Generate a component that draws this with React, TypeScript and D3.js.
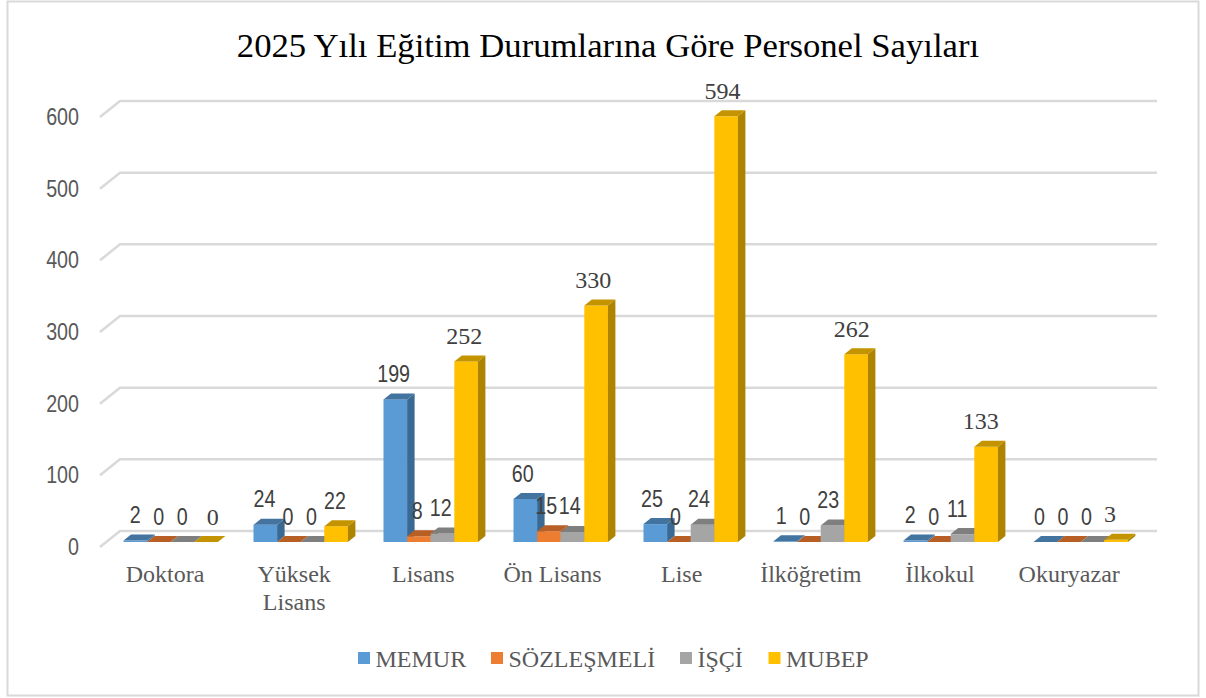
import React from "react";
import * as d3 from "d3";

const categories = ["Doktora", "Yüksek Lisans", "Lisans", "Ön Lisans", "Lise", "İlköğretim", "İlkokul", "Okuryazar"];
const memur = [2, 24, 199, 60, 25, 1, 2, 0];
const sozlesmeli = [0, 0, 8, 15, 0, 0, 0, 0];
const isci = [0, 0, 12, 14, 24, 23, 11, 0];
const mubep = [0, 22, 252, 330, 594, 262, 133, 3];
const seriesNames = ["MEMUR", "SÖZLEŞMELİ", "İŞÇİ", "MUBEP"];
const yTicks = [0, 100, 200, 300, 400, 500, 600];

const front = ["#5B9BD5", "#ED7D31", "#A5A5A5", "#FFC000"];
const side = ["#3A6A94", "#A85A22", "#757575", "#AD8300"];
const top = ["#43739F", "#B75F24", "#7F7F7F", "#C49400"];

const W = 1206, H = 698;
const serif = "'Liberation Serif','Times New Roman',serif";
const sans = "'Liberation Sans',Arial,sans-serif";
const ink = "#404040";

const all = [memur, sozlesmeli, isci, mubep];
const dx = 7.5, dy = 6;
const y = d3.scaleLinear().domain([0, 600]).range([542, 112]);
const x0 = d3.scaleBand<string>().domain(categories).range([123.5, 123.5 + 130 * 8]);
const bw = 23.6;
const sx = (c: number, s: number) => (x0(categories[c]) as number) + s * bw;
// labels sit on a slightly tighter grid than the bars, as in the reference
const lx = d3.scaleLinear().domain([0, 7]).range([135.3, 1039.5]);
const labelStep = 23.5;

function Narrow(props: { x: number; y: number; anchor: string; fill: string; children: React.ReactNode }) {
  return (
    <text transform={`translate(${props.x},${props.y}) scale(0.82,1)`} textAnchor={props.anchor}
      fontFamily={sans} fontSize={24} fill={props.fill}>{props.children}</text>
  );
}

const legendSquares = [358, 491, 680, 768.5];

export default function App() {
  return (
    <svg width={W} height={H} style={{ position: "absolute", left: 0, top: 0, background: "#fff" }}>
      <rect x={7.5} y={1.5} width={1191} height={694} fill="#fff" stroke="#D9D9D9" strokeWidth={2} />
      <text x={608} y={57} textAnchor="middle" fontFamily={serif} fontSize={34.7} fill="#000">2025 Yılı Eğitim Durumlarına Göre Personel Sayıları</text>
      {yTicks.map((t) => (
        <g key={t}>
          <path d={`M100 ${y(t) + 5}L120 ${y(t) - 11}H1157`} fill="none" stroke="#D9D9D9" strokeWidth={2.5} />
          <Narrow x={79} y={y(t) + 13} anchor="end" fill="#595959">{t}</Narrow>
        </g>
      ))}
      {categories.map((c, ci) =>
        all.map((vals, si) => {
          const v = vals[ci];
          const x = sx(ci, si);
          const yt = y(v), yb = y(0);
          return (
            <g key={c + si}>
              <rect x={x} y={yt} width={bw} height={yb - yt} fill={front[si]} />
              <path d={`M${x + bw} ${yt}l${dx} ${-dy}V${yb - dy}L${x + bw} ${yb}Z`} fill={side[si]} />
              <path d={`M${x} ${yt}l${dx} ${-dy}h${bw}l${-dx} ${dy}Z`} fill={top[si]} />
            </g>
          );
        })
      )}
      {categories.map((c, ci) =>
        all.map((vals, si) => {
          const v = vals[ci];
          const isSerif = si === 3 && v !== 22;
          const nudge = ci === 0 && si === 3 ? 7 : 0;
          const lxv = lx(ci) + si * labelStep + nudge;
          const ly = y(v) - 17.5;
          return isSerif ? (
            <text key={c + si} x={lxv} y={ly} textAnchor="middle" fontFamily={serif} fontSize={24} fill={ink}>{v}</text>
          ) : (
            <Narrow key={c + si} x={lxv} y={ly} anchor="middle" fill={ink}>{v}</Narrow>
          );
        })
      )}
      {categories.map((c, ci) => {
        const cx = lx(ci) + 29.7;
        const lines = c === "Yüksek Lisans" ? ["Yüksek", "Lisans"] : [c];
        return (
          <text key={c} textAnchor="middle" fontFamily={serif} fontSize={24} fill="#595959">
            {lines.map((l, i) => <tspan key={l} x={cx} y={582 + i * 28}>{l}</tspan>)}
          </text>
        );
      })}
      {seriesNames.map((n, i) => (
        <g key={n}>
          <rect x={legendSquares[i]} y={652} width={12} height={12} fill={front[i]} />
          <text x={legendSquares[i] + 17.5} y={667} fontFamily={serif} fontSize={24} fill="#595959">{n}</text>
        </g>
      ))}
    </svg>
  );
}
